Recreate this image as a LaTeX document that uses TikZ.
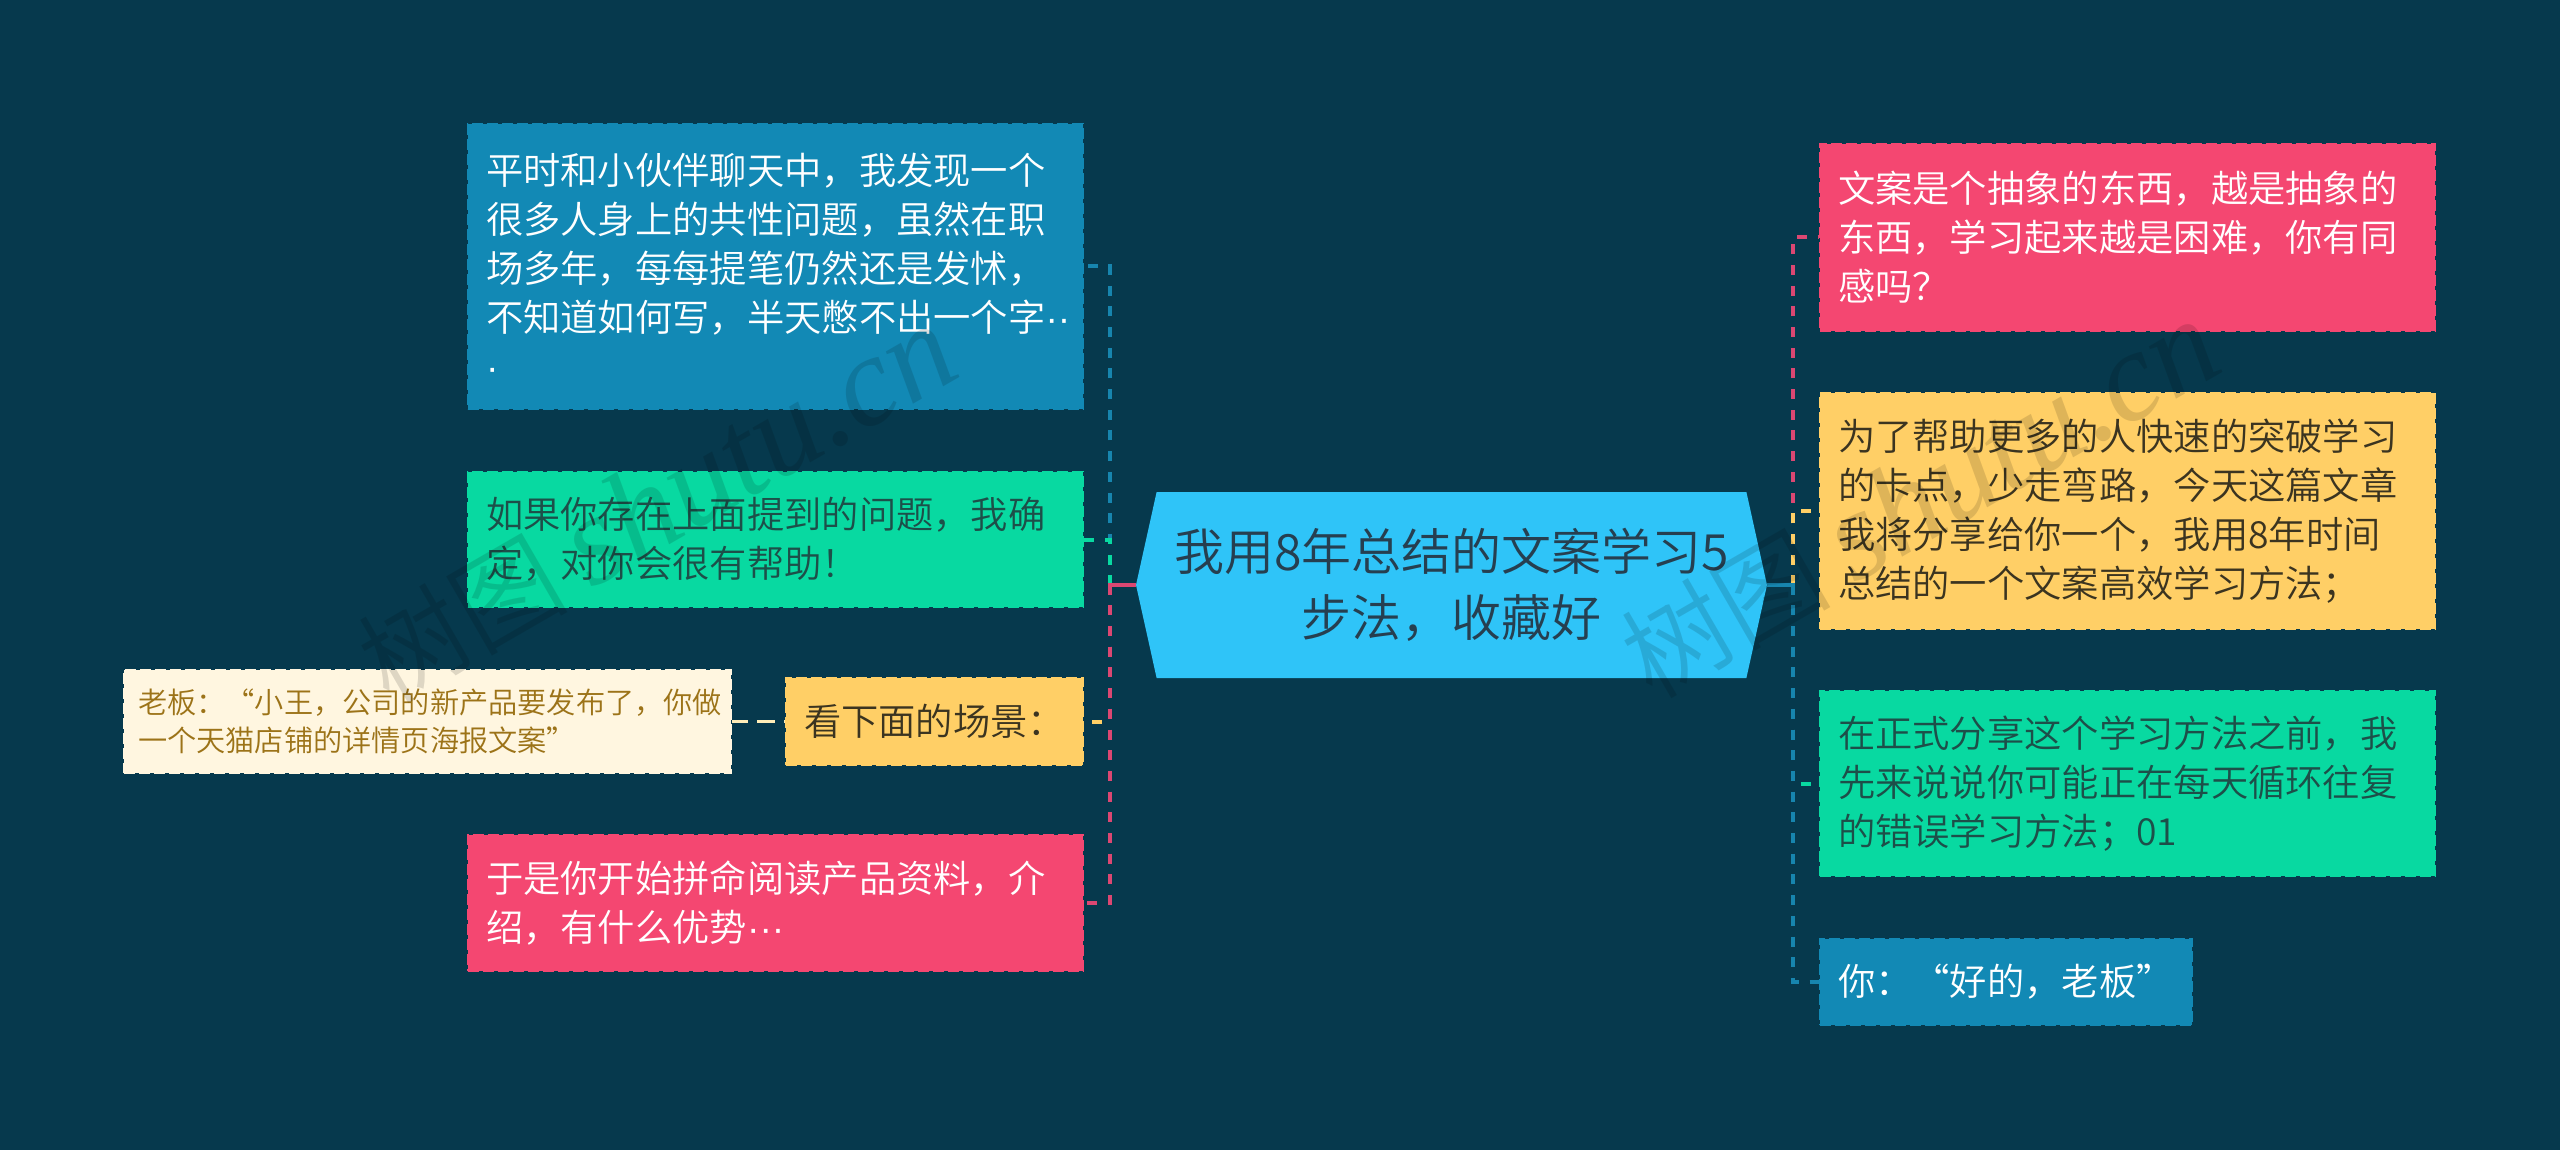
\documentclass[tikz,border=0pt]{standalone}
\usepackage{fontspec}
\setmainfont{Noto Sans CJK SC}[UprightFont=* DemiLight]
\newfontfamily\wmlatin{Liberation Serif}
\newfontfamily\dotfont{Liberation Sans}
\usetikzlibrary{shapes.symbols}
\definecolor{bgc}{HTML}{06394D}
\definecolor{cblue}{HTML}{1289B5}
\definecolor{cgreen}{HTML}{08D9A1}
\definecolor{cyellow}{HTML}{FFCF66}
\definecolor{cpink}{HTML}{F44771}
\definecolor{ccentre}{HTML}{2FC4F8}
\definecolor{ccream}{HTML}{FFF6E0}
\definecolor{tcream}{HTML}{9C7318}
\definecolor{tgreen}{HTML}{1D4F49}
\definecolor{tyellow}{HTML}{3B3420}
\definecolor{tcentre}{HTML}{263F50}
\definecolor{lpink}{HTML}{DC4772}
\definecolor{lblue}{HTML}{1785AE}
\definecolor{lcream}{HTML}{FFEDB8}
\tikzset{
  x=1pt,y=-1pt,
  card/.style 2 args={rectangle,fill=#1,draw=#1,text=#2,line width=2.5pt,
    dash pattern=on 11pt off 4pt,inner xsep=18pt,inner ysep=0pt,align=left,
    font=\fontsize{37.3}{49}\selectfont},
  dims/.style 2 args={minimum width=#1pt-2pt,minimum height=#2pt-2pt,text width=#1pt-38pt},
  conn/.style={draw=#1,line width=4pt,dash pattern=on 10pt off 10.7pt,dash phase=16pt},
  stem/.style={draw=#1,line width=4pt},
  wmark/.style={text=black,opacity=.13,rotate=30,font=\fontsize{105}{105}\selectfont},
}
\begin{document}
\begin{tikzpicture}
\useasboundingbox[fill=bgc] (0,0) rectangle (2560,1150);
% centre
\node (c) [signal,signal to=west and east,signal pointer angle=155,fill=ccentre,text=tcentre,
  minimum width=631pt,minimum height=186pt,inner sep=0pt,align=center,
  font=\fontsize{50}{66}\selectfont] at (1451.5,585) {我用8年总结的文案学习5\\步法，收藏好};
% left
\node (l1) [card={cblue}{white},dims={617}{287}] at (775.5,266.5) {平时和小伙伴聊天中，我发现一个\\很多人身上的共性问题，虽然在职\\场多年，每每提笔仍然还是发怵，\\不知道如何写，半天憋不出一个字{\dotfont ··}\\{\dotfont ·}};
\node (l2) [card={cgreen}{tgreen},dims={617}{137}] at (775.5,539.5) {如果你存在上面提到的问题，我确\\定，对你会很有帮助！};
\node (l3) [card={cyellow}{tyellow},dims={299}{89}] at (934.5,721.5) {看下面的场景：};
\node (l3a) [card={ccream}{tcream},dims={609}{105},inner xsep=14pt,text width=579pt,font=\fontsize{29.2}{38}\selectfont] at (427.5,721.5) {老板：“小王，公司的新产品要发布了，你做\\一个天猫店铺的详情页海报文案”};
\node (l4) [card={cpink}{white},dims={617}{138}] at (775.5,903) {于是你开始拼命阅读产品资料，介\\绍，有什么优势{\dotfont ···}};
% right
\node (r1) [card={cpink}{white},dims={617}{189}] at (2127.5,237.5) {文案是个抽象的东西，越是抽象的\\东西，学习起来越是困难，你有同\\感吗？};
\node (r2) [card={cyellow}{tyellow},dims={617}{238}] at (2127.5,511) {为了帮助更多的人快速的突破学习\\的卡点，少走弯路，今天这篇文章\\我将分享给你一个，我用8年时间\\总结的一个文案高效学习方法；};
\node (r3) [card={cgreen}{tgreen},dims={617}{187}] at (2127.5,783.5) {在正式分享这个学习方法之前，我\\先来说说你可能正在每天循环往复\\的错误学习方法；01};
\node (r4) [card={cblue}{white},dims={374}{88}] at (2006,982) {你：“好的，老板”};
% trunks
\coordinate (tl) at (1110,585);
\coordinate (tr) at (1793,585);
% left connectors
\draw[conn=lblue] (c.west) -- (tl) |- (l1.east);
\draw[conn=cgreen] (c.west) -- (tl) |- (l2.east);
\draw[conn=cyellow] (c.west) -- (tl) |- (l3.east);
\draw[conn=lpink] (c.west) -- (tl) |- (l4.east);
\draw[stem=lpink] (c.west) -- (tl);
\draw[line width=3pt,draw=lcream,dash pattern=on 18pt off 9pt,dash phase=17pt] (l3.west) -- (l3a.east);
% right connectors
\draw[conn=lpink] (c.east) -- (tr) |- (r1.west);
\draw[conn=cyellow] (c.east) -- (tr) |- (r2.west);
\draw[conn=cgreen] (c.east) -- (tr) |- (r3.west);
\draw[conn=lblue] (c.east) -- (tr) |- (r4.west);
\draw[stem=lblue] (c.east) -- (tr);
% watermark
\node (wm1) [wmark] at (657,505) {树图 {\wmlatin\itshape\fontsize{128}{128}\selectfont shutu.cn}};
\node (wm2) [wmark] at (1920,500) {树图 {\wmlatin\itshape\fontsize{128}{128}\selectfont shutu.cn}};
\end{tikzpicture}
\end{document}
